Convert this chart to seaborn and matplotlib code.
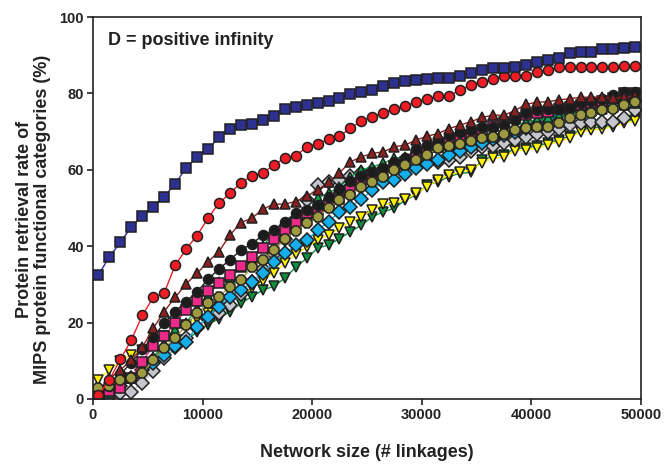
import numpy as np
import pandas as pd
import matplotlib
matplotlib.use("Agg")
import matplotlib.pyplot as plt
import seaborn as sns

# ---------------- data ----------------
network_size = [500 + 1000 * k for k in range(50)]

blue_sq = [32.5, 37.2, 41, 45, 48, 50.3, 53, 56.3, 60.5, 63.4, 65.4, 68.5, 70.7, 71.6, 72, 73, 74.1, 76, 76.4, 77,
           77.5, 77.9, 78.8, 79.8, 80.4,
           80.9, 81.9, 82.6, 83.2, 83.5, 83.8, 84, 84, 84.6, 85.4, 86.1, 86.6, 86.7, 86.8, 87.4, 88.1, 88.7, 89.2,
           90.7, 90.9, 90.9, 91.5, 91.6, 92, 92.2]
red_circ = [1, 5, 10.4, 15.4, 21.9, 26.6, 27.7, 35, 39.2, 42.8, 47.3, 51.3,
            53.8, 56.6, 58.4, 59.1, 61.3, 63, 63.6, 66, 66.8, 68, 68.8, 70.9, 72.8,
            73.9, 74.9, 75.9, 76.7, 77.7, 78.5, 79.3, 79.3, 80.9, 82.2, 83.1, 83.7, 84.6, 84.6, 84.6, 85.7, 86.1,
            86.8, 86.8, 86.8, 86.8, 86.8, 86.8, 87.2, 87.2]
brown_tri = [2, 5.4, 7.6, 10.2, 13.5, 18.5, 22.9, 26.6, 30.1, 32.9,
             35.9, 38.6, 42.9, 46.2, 47.3, 49.7, 51, 51, 51.7, 53.1, 54.7, 56.7,
             59.2, 62.1, 63.4, 64.3, 64.7, 66, 66.5, 67.8, 68.8, 69.5, 70.8,
             71.7, 72.6, 73.7, 74.3, 74.3, 75.5, 77.1, 77.7, 77.8, 78.3, 78.6,
             79, 79, 79, 78.7, 79, 79.3]
black_circ = [1, 3.5, 6.5, 9.5, 13, 16.3,
              19.8, 22.9, 25.5, 28.1, 31.3, 34.1,
              36.4, 39, 40.6, 42.9, 44.2, 46.4, 48.6, 49.5,
              50.8, 53, 55, 57, 58.5, 59.5, 60.5, 62, 63, 65.5, 66.5, 67.8,
              69.1, 70, 70.4, 71.1, 71.3, 71.7, 73, 74.8, 75.7, 75.8, 75.8, 76.5,
              77.5, 78, 78.5, 79.5, 80.4, 80.4]
magenta_sq = [1, 2, 3, 5.4,
              9.8, 13.9, 16.5, 19.8, 23.3, 25.7, 28.4, 30.3,
              32.5, 34.8, 37.3, 39.5, 42, 44.2, 46.2, 48.8, 49.7,
              51, 52.3, 54.7, 57.3, 58.6,
              59.5, 61, 62, 63.5, 65, 66, 67, 68, 69, 70.5, 71.5, 72.5, 73.5, 74.3,
              75, 75.2,
              76, 76.5, 77, 77.5, 78, 78.8, 80, 80]
green_up = [0.5, 1.5, 3.2, 5.5, 8, 11, 14.5, 18, 20, 23.5, 27, 30.5, 32, 34.5, 36.8, 40, 43.4, 44.5, 46, 48.2,
            52.5, 54, 55.4, 58.2, 60, 60.8, 61.7, 63, 63.4, 64.5, 65.5, 66, 66.5, 67, 68, 69, 70, 70.5, 71.5, 72.5,
            73, 73.5, 74, 74.5, 75, 75.5, 76, 76.5, 77, 77.5]
cyan_dia = [0.5, 2, 3.5, 5.5, 7.5, 9.5, 11.5,
            13.9, 15, 18.9, 21.5, 24.2,
            26.8, 28.5, 30.5, 33, 35.9, 38.1, 40.3, 41.6, 44.2, 46.4,
            49, 50.3, 52.3, 54.7, 56.9, 57.3, 58.8, 60.4,
            61.5, 62.5, 64, 65, 66, 67, 68, 69, 70, 71, 72, 73.5, 74.5, 75.8,
            76.1, 76.5, 77, 77.4, 77.8, 78]
olive_circ = [2.8, 3.4, 5, 5.4, 6.7, 10.2, 13.3, 15.9, 19.4, 22.4, 25,
              26.8, 29.4, 31.2, 34.5, 36.4, 39, 42, 44, 46,
              47.7, 50, 52, 53.4, 55.4, 56.9, 58.2, 60, 61.3, 62.6, 63.9, 65.6,
              66.2, 66.8, 67.6, 68.2, 68.7, 69.5, 70.4, 70.9, 71.3, 71.3, 72.2, 73.6,
              74.3, 75, 75.7, 75.8, 77, 77.8]
gray_dia = [0, 0.5, 1.5, 1.9, 4.3, 7.2, 10.8,
            13.5, 16, 18.5, 21, 22.5, 24.6, 27.5, 30.7,
            34, 38, 42, 47, 52,
            56, 56.8, 57.3, 58.3, 59.2, 59.6, 60, 60.5, 61, 61.7, 62.1, 62, 62.5, 63.3, 65, 66, 66.2, 67, 67.8,
            68.5, 69.3, 70, 70.6, 71.6, 72.2, 72.6, 72.6, 72.6, 73.5, 75.6]
yellow_tri = [5, 7.6, 10, 11.5, 12.8, 15,
              16.5, 18, 19.5, 21, 22.5, 24, 25.5, 27, 29, 31, 33, 35.5,
              38, 39.7, 41.6, 42.9, 44.7, 46.4, 47.7, 49.5, 51, 51.2, 52.3, 53.8, 55.6, 57.3, 58.6, 59.5, 59.9,
              61.9, 63, 63.3, 65, 65.2, 65.6, 66.5, 67.4, 68.3,
              70, 70.4, 70.7, 71.3, 72.2, 72.8]
green_down = [0.5, 1.5, 3, 5, 7, 9, 11, 13, 15.5, 17.5, 19.5, 21,
              22.9, 25, 26.8, 28.5, 29.5, 31.6, 34.5, 36.8, 39.5, 40.3,
              42, 43.8, 45.5, 47.7, 49, 49.9, 52.1, 53.4, 56, 56.9, 58.2, 59.1, 59.3,
              62.5, 63.6, 64, 65.5, 65.8, 66.2, 67, 67.9, 68.8,
              70.5, 70.9, 71.2, 71.8, 72.7, 73.3]

# drawing order (first = bottom)
series = {
    "green_down": green_down,
    "yellow": yellow_tri,
    "gray": gray_dia,
    "cyan": cyan_dia,
    "green_up": green_up,
    "magenta": magenta_sq,
    "black": black_circ,
    "brown": brown_tri,
    "olive": olive_circ,
    "red": red_circ,
    "blue": blue_sq,
}
palette = {
    "green_down": "#0E8F3E", "yellow": "#FFF200", "gray": "#C4C6CC", "cyan": "#14AEEA",
    "green_up": "#0FA04A", "magenta": "#EC2A8A", "black": "#1C1C1C", "brown": "#8A2020",
    "olive": "#9E9A40", "red": "#EE1C25", "blue": "#2E3192",
}
markers = {
    "green_down": "v", "yellow": "v", "gray": "D", "cyan": "D", "green_up": "^",
    "magenta": "s", "black": "o", "brown": "^", "olive": "8", "red": "o", "blue": "s",
}

rows = []
for name, vals in series.items():
    for x, y in zip(network_size, vals):
        rows.append((name, x, y))
df = pd.DataFrame(rows, columns=["series", "x", "y"])

# ---------------- plot ----------------
sns.set_style("white")
plt.rcParams["font.family"] = ["Liberation Sans", "DejaVu Sans"]
plt.rcParams["font.weight"] = "bold"

fig = plt.figure(figsize=(6.64, 4.66), dpi=100)
ax = fig.add_axes([0.140, 0.1438, 0.825, 0.8197])

order = list(series.keys())
sns.lineplot(data=df, x="x", y="y", hue="series", style="series", hue_order=order, style_order=order,
             palette=palette, markers=markers, dashes=False, legend=False, ax=ax,
             linewidth=1.0, markersize=7.2, markeredgecolor="#202020", markeredgewidth=1.1)

ax.set_xlim(0, 50000)
ax.set_ylim(0, 100)
ax.set_xticks([0, 10000, 20000, 30000, 40000, 50000])
ax.set_yticks([0, 20, 40, 60, 80, 100])
ax.tick_params(axis="both", direction="out", length=4, width=1.2, labelsize=10.5, pad=2.5,
               bottom=True, left=True, top=False, right=False, colors="#222222")
for lab in ax.get_xticklabels() + ax.get_yticklabels():
    lab.set_fontweight("bold")
for sp in ax.spines.values():
    sp.set_linewidth(1.2)
    sp.set_color("#222222")

ax.set_xlabel("Network size (# linkages)", fontsize=13, fontweight="bold", color="#222222")
ax.xaxis.set_label_coords(0.5, -0.118)
ax.set_ylabel("Protein retrieval rate of\nMIPS protein functional categories (%)", fontsize=13,
              fontweight="bold", color="#222222", linespacing=1.1)
ax.yaxis.set_label_coords(-0.076, 0.47)
ax.text(0.027, 0.96, "D = positive infinity", transform=ax.transAxes, fontsize=13, fontweight="bold",
        va="top", ha="left", color="#222222")

fig.savefig("out.png", dpi=100)
